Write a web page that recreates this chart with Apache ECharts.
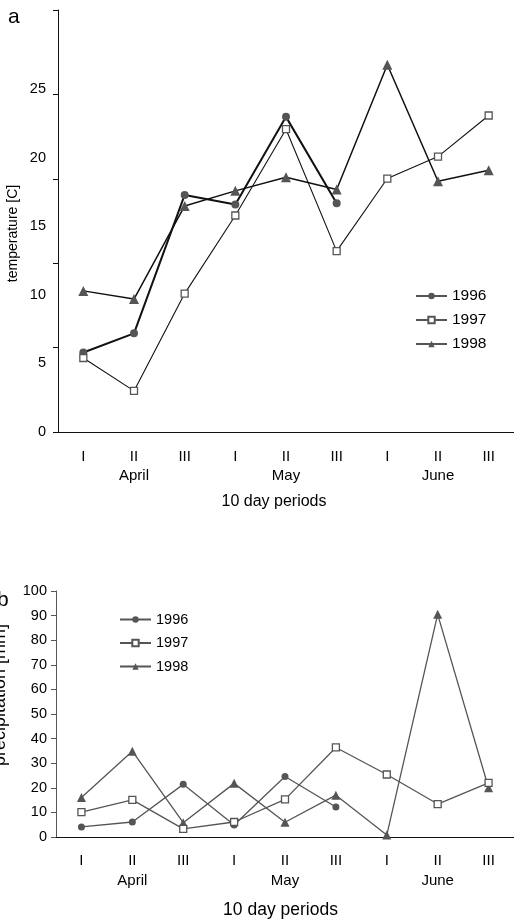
<!DOCTYPE html>
<html>
<head>
<meta charset="utf-8">
<script src="https://cdn.jsdelivr.net/npm/echarts@6/dist/echarts.min.js"></script>
<style>
  html, body { margin: 0; padding: 0; background: #fff; }
  #chart { width: 514px; height: 920px; }
</style>
</head>
<body>
<div id="chart"></div>
<script>
// 10-day periods, April - June
const periods = ['I', 'II', 'III', 'I', 'II', 'III', 'I', 'II', 'III'];
const months = ['April', 'May', 'June'];
const years = ['1996', '1997', '1998'];

// a: temperature [C]
const temp1996 = [5.8, 7.2, 17.3, 16.6, 23.0, 16.7];
const temp1997 = [5.4, 3.0, 10.1, 15.8, 22.1, 13.2, 18.5, 20.1, 23.1];
const temp1998 = [10.3, 9.7, 16.5, 17.6, 18.6, 17.7, 26.8, 18.3, 19.1];
const tempLabels = [0, 5, 10, 15, 20, 25];
const tempMax = 30.8;

// b: precipitation [mm]
const prec1996 = [4.1, 6.1, 21.4, 4.9, 24.6, 12.2];
const prec1997 = [10.1, 15.1, 3.3, 6.1, 15.3, 36.4, 25.4, 13.4, 22.0];
const prec1998 = [16.1, 34.9, 5.8, 21.8, 6.0, 17.0, 0.8, 90.5, 20.0];

const FONT = 'Liberation Sans, Arial, sans-serif';
const INK = '#000';
const GREY = '#555';

const chart = echarts.init(document.getElementById('chart'));

// ticks on the temperature axis don't line up with the labels (as in the original)
const tempTicks = [0, 1, 2, 3, 4, 5].map(i => tempMax * i / 5);

function xAxisFor(gridIndex, margin, lh, nameSize, nameGap, namePad) {
  return {
    type: 'category',
    gridIndex: gridIndex,
    data: periods,
    boundaryGap: true,
    axisLine: { lineStyle: { color: '#111', width: 1 } },
    axisTick: { length: 5, lineStyle: { color: '#111' } },
    axisLabel: {
      interval: 0,
      margin: margin,
      formatter: (v, i) => i % 3 === 1 ? '{p|' + v + '}\n{m|' + months[(i - 1) / 3] + '}' : '{p|' + v + '}',
      rich: {
        p: { fontFamily: FONT, fontSize: 15, color: INK, lineHeight: lh },
        m: { fontFamily: FONT, fontSize: 15, color: INK, lineHeight: lh }
      }
    },
    name: '10 day periods',
    nameLocation: 'middle',
    nameGap: nameGap,
    nameTextStyle: { fontFamily: FONT, fontSize: nameSize, color: INK, padding: [0, namePad, 0, 0] }
  };
}

function line(name, data, xi, symbol, size, lineColor, width, hollow) {
  return {
    name: name,
    type: 'line',
    xAxisIndex: xi,
    yAxisIndex: xi,
    data: data,
    symbol: symbol,
    symbolSize: size,
    showAllSymbol: true,
    lineStyle: { color: lineColor, width: width },
    itemStyle: hollow
      ? { color: '#fff', borderColor: GREY, borderWidth: 1.3 }
      : { color: GREY, borderWidth: 0 },
    emphasis: { disabled: true },
    z: hollow ? 3 : 2
  };
}

function legendFor(left, top, gap, size) {
  return {
    orient: 'vertical',
    left: left,
    top: top,
    itemWidth: 31,
    itemHeight: 8,
    itemGap: gap,
    textStyle: { fontFamily: FONT, fontSize: size, color: INK },
    lineStyle: { color: GREY, width: 2 },
    data: years,
    selectedMode: false
  };
}

const option = {
  animation: false,
  backgroundColor: '#fff',
  grid: [
    { left: 58, top: 10, width: 459, height: 422 },
    { left: 56, top: 591, width: 459, height: 251 }
  ],
  xAxis: [
    xAxisFor(0, 15, 19, 16, 62, 24),
    xAxisFor(1, 14, 20, 17.5, 64, 9)
  ],
  yAxis: [
    {
      type: 'value',
      gridIndex: 0,
      min: 0,
      max: tempMax,
      splitLine: { show: false },
      axisLine: { show: true, lineStyle: { color: '#111' } },
      axisTick: { show: true, length: 5, customValues: tempTicks, lineStyle: { color: '#111' } },
      axisLabel: { customValues: tempLabels, margin: 12, fontFamily: FONT, fontSize: 14.5, color: INK }
    },
    {
      type: 'value',
      gridIndex: 1,
      min: 0,
      max: 100,
      interval: 10,
      splitLine: { show: false },
      axisLine: { show: true, lineStyle: { color: GREY } },
      axisTick: { show: true, length: 5, lineStyle: { color: GREY } },
      axisLabel: { margin: 9, fontFamily: FONT, fontSize: 14.5, color: INK }
    }
  ],
  legend: [
    legendFor(410, 283, 8, 15.5),
    legendFor(114, 607, 8.5, 14.5)
  ],
  graphic: [
    { type: 'text', x: 8, y: 17.7, style: { text: 'a', font: '21px ' + FONT, fill: INK, verticalAlign: 'middle' } },
    { type: 'text', x: -3, y: 600, style: { text: 'b', font: '21px ' + FONT, fill: INK, verticalAlign: 'middle' } },
    { type: 'text', x: 13.5, y: 233.5, rotation: Math.PI / 2,
      style: { text: 'temperature [C]', font: '14px ' + FONT, fill: INK, align: 'center', verticalAlign: 'middle' } },
    { type: 'text', x: 0.5, y: 695, rotation: Math.PI / 2,
      style: { text: 'precipitation [mm]', font: '18px ' + FONT, fill: INK, align: 'center', verticalAlign: 'middle' } }
  ],
  series: [
    line('1996', temp1996, 0, 'circle', 8, '#111', 2, false),
    line('1997', temp1997, 0, 'rect', 7, '#111', 1.1, true),
    line('1998', temp1998, 0, 'triangle', 10, '#111', 1.5, false),
    line('1996', prec1996, 1, 'circle', 7, GREY, 1.3, false),
    line('1997', prec1997, 1, 'rect', 7, GREY, 1.3, true),
    line('1998', prec1998, 1, 'triangle', 9, GREY, 1.3, false)
  ]
};

chart.setOption(option);
</script>
</body>
</html>
